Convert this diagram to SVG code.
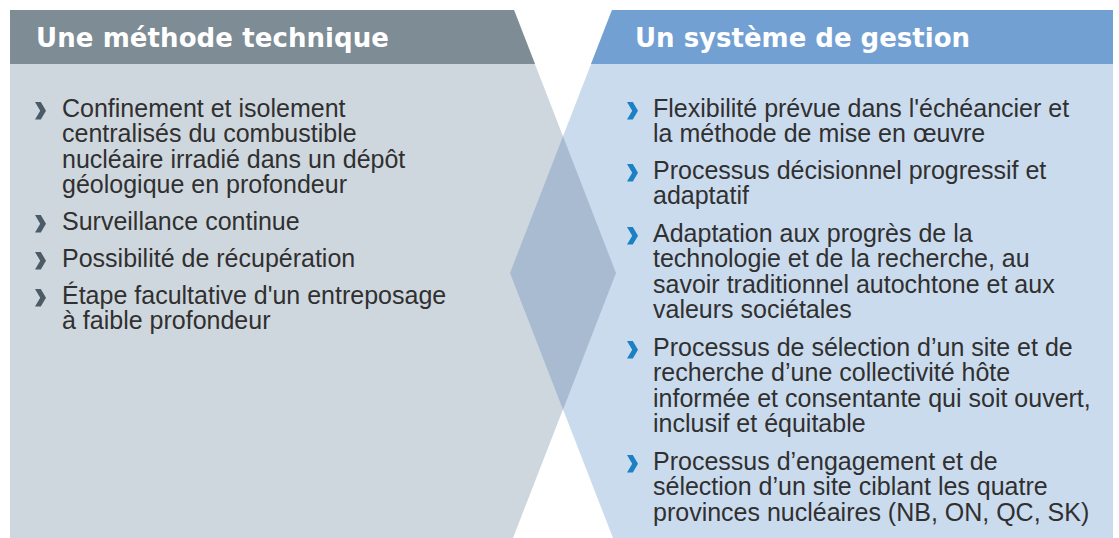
<svg xmlns="http://www.w3.org/2000/svg" xmlns:xlink="http://www.w3.org/1999/xlink" width="1119" height="538" viewBox="0 0 1119 538">
  <style>
    .head { font-family: "DejaVu Sans", "Liberation Sans", sans-serif; font-weight: bold; font-size: 26px; fill: #ffffff; }
    .body { font-family: "Liberation Sans", Arial, sans-serif; font-size: 25px; fill: #303030; }
    .bulL { fill: #4b5b67; }
    .bulR { fill: #1b80c4; }
  </style>
  <defs>
    <!-- chevron bullet, origin at text baseline -->
    <path id="chev" d="M0,-14.5 L5.8,-14.5 L11,-5.8 L5.8,2.9 L0,2.9 L5.2,-5.8 Z"/>
  </defs>
  <rect width="1119" height="538" fill="#ffffff"/>

  <!-- left column: technical method -->
  <g id="technique">
    <polygon points="10,10 514,10 616,273 513,538 10,538" fill="#cfd7de"/>
    <polygon points="10,10 514,10 535,64 10,64" fill="#7e8c95"/>
    <text class="head" x="36" y="47" textLength="353" lengthAdjust="spacing">Une méthode technique</text>
  </g>

  <!-- right column: management system -->
  <g id="gestion">
    <polygon points="612,10 1113,10 1113,538 613,538 510,273" fill="#cbdbee"/>
    <polygon points="612,10 1113,10 1113,64 591,64" fill="#72a0d3"/>
    <text class="head" x="635" y="47" textLength="335" lengthAdjust="spacing">Un système de gestion</text>
  </g>

  <!-- overlap of both columns -->
  <polygon id="overlap" points="563,136.3 616,273 563,409.7 510,273" fill="#a8bbd1"/>

  <g id="technique-items">
    <use xlink:href="#chev" class="bulL" x="35" y="116.5"/>
    <text class="body" x="62" y="116.5">Confinement et isolement</text>
    <text class="body" x="62" y="142">centralisés du combustible</text>
    <text class="body" x="62" y="167.5">nucléaire irradié dans un dépôt</text>
    <text class="body" x="62" y="193">géologique en profondeur</text>

    <use xlink:href="#chev" class="bulL" x="35" y="229.5"/>
    <text class="body" x="62" y="229.5">Surveillance continue</text>

    <use xlink:href="#chev" class="bulL" x="35" y="266.5"/>
    <text class="body" x="62" y="266.5">Possibilité de récupération</text>

    <use xlink:href="#chev" class="bulL" x="35" y="303.5"/>
    <text class="body" x="62" y="303.5">Étape facultative d'un entreposage</text>
    <text class="body" x="62" y="329">à faible profondeur</text>
  </g>

  <g id="gestion-items">
    <use xlink:href="#chev" class="bulR" x="627" y="116.5"/>
    <text class="body" x="653" y="116.5">Flexibilité prévue dans l'échéancier et</text>
    <text class="body" x="653" y="142">la méthode de mise en œuvre</text>

    <use xlink:href="#chev" class="bulR" x="627" y="178.5"/>
    <text class="body" x="653" y="178.5">Processus décisionnel progressif et</text>
    <text class="body" x="653" y="204">adaptatif</text>

    <use xlink:href="#chev" class="bulR" x="627" y="241.5"/>
    <text class="body" x="653" y="241.5">Adaptation aux progrès de la</text>
    <text class="body" x="653" y="267">technologie et de la recherche, au</text>
    <text class="body" x="653" y="292.5">savoir traditionnel autochtone et aux</text>
    <text class="body" x="653" y="318">valeurs sociétales</text>

    <use xlink:href="#chev" class="bulR" x="627" y="355.5"/>
    <text class="body" x="653" y="355.5">Processus de sélection d’un site et de</text>
    <text class="body" x="653" y="381">recherche d’une collectivité hôte</text>
    <text class="body" x="653" y="406.5">informée et consentante qui soit ouvert,</text>
    <text class="body" x="653" y="432">inclusif et équitable</text>

    <use xlink:href="#chev" class="bulR" x="627" y="469.5"/>
    <text class="body" x="653" y="469.5">Processus d’engagement et de</text>
    <text class="body" x="653" y="495">sélection d’un site ciblant les quatre</text>
    <text class="body" x="653" y="520.5">provinces nucléaires (NB, ON, QC, SK)</text>
  </g>
</svg>
